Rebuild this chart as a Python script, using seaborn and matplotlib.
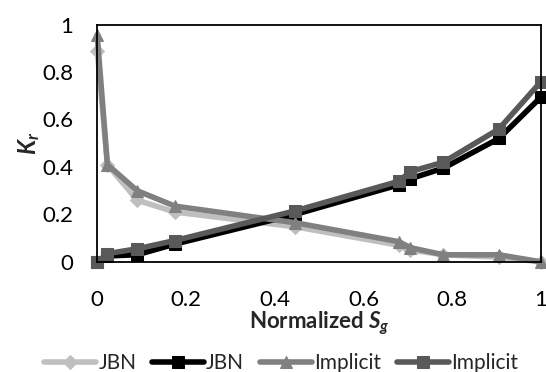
import matplotlib
matplotlib.use("Agg")
import matplotlib.pyplot as plt
import seaborn as sns
import pandas as pd

sg = [0.0, 0.023, 0.09, 0.175, 0.446, 0.68, 0.705, 0.78, 0.905, 1.0]
jbn_rel = [0.89, 0.41, 0.26, 0.21, 0.148, 0.07, 0.05, 0.03, 0.02, 0.0]
jbn_sq = [0.0, 0.025, 0.03, 0.075, 0.20, 0.325, 0.35, 0.395, 0.52, 0.695]
imp_tri = [0.955, 0.41, 0.30, 0.235, 0.165, 0.085, 0.06, 0.03, 0.03, 0.0]
imp_sq = [0.0, 0.035, 0.055, 0.09, 0.215, 0.34, 0.38, 0.42, 0.56, 0.76]

series = [
    ("JBN", jbn_rel, "#BFBFBF", "D", 7),
    ("JBN ", jbn_sq, "#000000", "s", 8),
    ("Implicit", imp_tri, "#808080", "^", 8),
    ("Implicit ", imp_sq, "#595959", "s", 8),
]

sns.set_theme(style="white")
plt.rcParams["font.family"] = ["Lato", "DejaVu Sans"]
plt.rcParams["mathtext.fontset"] = "custom"
plt.rcParams["mathtext.it"] = "Lato:italic:bold"
plt.rcParams["mathtext.bf"] = "Lato:bold"
plt.rcParams["mathtext.rm"] = "Lato:bold"

fig = plt.figure(figsize=(5.46, 3.72), dpi=100)
ax = fig.add_axes([0.178, 0.296, 0.813, 0.638])

for name, vals, color, mk, ms in series:
    df = pd.DataFrame({"Sg": sg, "Kr": vals})
    sns.lineplot(data=df, x="Sg", y="Kr", ax=ax, color=color, marker=mk,
                 markersize=ms, markeredgecolor=color, linewidth=4,
                 label=name.strip(), clip_on=False)

ax.set_xlim(0, 1)
ax.set_ylim(0, 1)
ax.set_xticks([0, 0.2, 0.4, 0.6, 0.8, 1])
ax.set_xticklabels(["0", "0.2", "0.4", "0.6", "0.8", "1"])
ax.set_yticks([0, 0.2, 0.4, 0.6, 0.8, 1])
ax.set_yticklabels(["0", "0.2", "0.4", "0.6", "0.8", "1"])
ax.tick_params(axis="x", length=0, labelsize=16, colors="black", pad=20)
ax.tick_params(axis="y", length=0, labelsize=16, colors="black", pad=17)
for sp in ax.spines.values():
    sp.set_color("black")
    sp.set_linewidth(1.3)

ax.set_xlabel(r"Normalized $S_g$", fontsize=16, fontweight="bold", labelpad=0)
ax.set_ylabel(r"$K_r$", fontsize=17, fontweight="bold", labelpad=0)

leg = ax.legend(loc="upper center", bbox_to_anchor=(0.414, -0.385), ncol=4,
                frameon=False, fontsize=15, handlelength=2.5, handletextpad=0.1,
                columnspacing=0.75, borderaxespad=0, borderpad=0)

fig.savefig("out.png", dpi=100)
